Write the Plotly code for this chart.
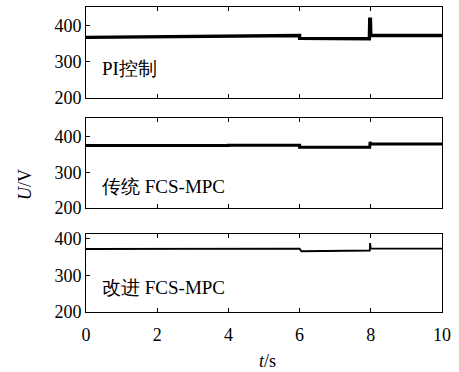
import plotly.graph_objects as go
from plotly.subplots import make_subplots

# Data
t_pi = [0, 2, 2, 4, 4, 6, 6, 7.96, 7.97, 7.99, 8.0, 10]
u_pi = [368, 369, 370, 371, 372, 373, 365, 364, 418, 418, 373, 373]

t_fcs = [0, 2, 2, 4, 4, 6, 6, 7.97, 7.98, 8.0, 8.0, 10]
u_fcs = [375, 375, 373, 375, 376, 376, 370, 370, 385, 381, 380, 379]

t_imp = [0, 2, 2, 4, 4, 6, 6.05, 7.9, 7.97, 7.98, 8.0, 10]
u_imp = [372, 372, 371, 371, 373, 373, 366, 366, 368, 388, 373, 373]

labels = ["PI控制", "传统 FCS-MPC", "改进 FCS-MPC"]
label_y = [282, 259, 268]
y_upper = [452, 452, 413]
y_ticks = [200, 300, 400]
x_ticks = [0, 2, 4, 6, 8, 10]

FONT = "Liberation Serif, serif"
FS = 18

fig = make_subplots(rows=3, cols=1, shared_xaxes=False, vertical_spacing=0.0)

series = [(t_pi, u_pi, 3.4), (t_fcs, u_fcs, 3.0), (t_imp, u_imp, 1.8)]
for i, (t, u, w) in enumerate(series):
    fig.add_trace(go.Scatter(x=t, y=u, mode="lines",
                             line=dict(color="black", width=w),
                             showlegend=False, hoverinfo="skip"),
                  row=i + 1, col=1)

domains = [[0.7016, 1.0], [0.341, 0.636], [0.0, 0.2557]]
for i in range(3):
    xa = "xaxis" if i == 0 else f"xaxis{i+1}"
    ya = "yaxis" if i == 0 else f"yaxis{i+1}"
    fig.layout[xa].update(
        range=[0, 10], tickvals=x_ticks, ticks="inside", ticklen=4,
        tickcolor="black", showline=True, linecolor="black", linewidth=1,
        mirror="ticks", showgrid=False, zeroline=False,
        showticklabels=(i == 2),
        tickfont=dict(family=FONT, size=FS, color="black"),
        ticklabelstandoff=6,
    )
    fig.layout[ya].update(
        domain=domains[i], range=[200, y_upper[i]], tickvals=y_ticks,
        ticks="inside", ticklen=4, tickcolor="black", showline=True,
        linecolor="black", linewidth=1, mirror=True, showgrid=False,
        zeroline=False,
        tickfont=dict(family=FONT, size=FS, color="black"),
    )
    xr = "x" if i == 0 else f"x{i+1}"
    yr = "y" if i == 0 else f"y{i+1}"
    fig.add_annotation(x=0.39, y=label_y[i], xref=xr, yref=yr,
                       text=labels[i], showarrow=False, xanchor="left",
                       yanchor="middle",
                       font=dict(family=FONT, size=19, color="black"))

W, H = 459, 372
L, R, T, B = 86, 17, 7, 60
pw, ph = W - L - R, H - T - B
def px(xp):
    return (xp - L) / pw
def py(yp):
    return (H - B - yp) / ph

fig.add_annotation(x=px(25), y=py(185), xref="paper", yref="paper",
                   text="<i>U</i>/V", showarrow=False, textangle=-90,
                   xanchor="center", yanchor="middle",
                   font=dict(family=FONT, size=FS, color="black"))
fig.add_annotation(x=px(267), y=py(361), xref="paper", yref="paper",
                   text="<i>t</i>/s", showarrow=False,
                   xanchor="center", yanchor="middle",
                   font=dict(family=FONT, size=FS, color="black"))

fig.update_layout(width=W, height=H, margin=dict(l=L, r=R, t=T, b=B, autoexpand=False),
                  plot_bgcolor="white", paper_bgcolor="white")
fig.write_html("out.html", config={"displayModeBar": False},
               post_script="document.body.style.margin='0';")
